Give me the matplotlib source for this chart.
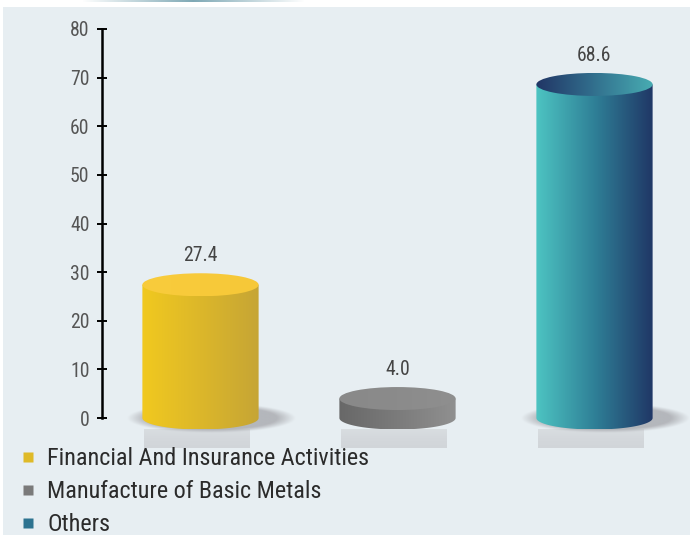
import numpy as np
import matplotlib
matplotlib.use('Agg')
import matplotlib.pyplot as plt
from matplotlib.patches import Ellipse, PathPatch, Rectangle
from matplotlib.path import Path
from matplotlib.colors import LinearSegmentedColormap, to_rgb
from matplotlib.lines import Line2D

# ---------------- data ----------------
categories = ['Financial And Insurance Activities', 'Manufacture of Basic Metals', 'Others']
values = [27.4, 4.0, 68.6]
value_labels = ['27.4', '4.0', '68.6']
yticks = [0, 10, 20, 30, 40, 50, 60, 70, 80]

# ---------------- style ----------------
body_colors = [['#f1c91f', '#dcb72a', '#c6a535'],
               ['#686868', '#7b7b7b', '#909090'],
               ['#4dc4c2', '#2f8097', '#203766']]
top_colors = [['#f9cc3c', '#f8ca3a', '#f6c838'],
              ['#898989', '#8b8b8b', '#8f8f8f'],
              ['#213565', '#32708e', '#48acb2']]
legend_colors = ['#dfba28', '#7a7a7a', '#2d7390']
shadow_on = [1, 0, 1]
bg = '#e7eef2'

plt.rcParams['font.family'] = ['Roboto Condensed', 'DejaVu Sans']

W, H = 694, 539
fig = plt.figure(figsize=(W / 100, H / 100), dpi=100)
fig.patch.set_facecolor('white')
fig.patches.append(Rectangle((3 / W, 4 / H), 687 / W, 528 / H, transform=fig.transFigure,
                             facecolor=bg, edgecolor='none', zorder=-5))

# thin decorative line at the top
axl = fig.add_axes([57 / W, 1 - 2 / H, 248 / W, 2 / H])
axl.axis('off')
t = np.linspace(0, 1, 300)
a = np.clip(1 - np.abs(t - 0.55) / 0.45, 0, 1)
rgb = to_rgb('#7ea8b5')
img = np.zeros((1, 300, 4))
img[..., :3] = rgb
img[..., 3] = a
axl.imshow(img, aspect='auto', extent=(0, 1, 0, 1))

# main axes
s = (418 - 29) / 80.0  # px per unit
ymax = (418 - 10) / s
ymin = -(450 - 418) / s
ax = fig.add_axes([102 / W, (H - 450) / H, 591 / W, 440 / H])
ax.set_facecolor('none')
ax.set_zorder(2)

x = np.arange(len(values))
w = 0.295                # half width in data units
hy = 11.5 / s            # ellipse half height in data units


def grad_image(extent, colors, clip, z, vertical=False, alpha=None):
    cmap = LinearSegmentedColormap.from_list('g', colors)
    if vertical:
        arr = np.linspace(1, 0, 256)[:, None]
    else:
        arr = np.linspace(0, 1, 256)[None, :]
    im = ax.imshow(arr, cmap=cmap, extent=extent, aspect='auto', origin='upper',
                   zorder=z, interpolation='bilinear', alpha=alpha)
    if clip is not None:
        im.set_clip_path(clip)
    return im


for i, (c, v) in enumerate(zip(x, values)):
    # shadow
    if shadow_on[i]:
        cx = c + 0.056
        sa, sb = 0.428, 15 / s
        nx, ny = 300, 80
        gx, gy = np.meshgrid(np.linspace(-1, 1, nx), np.linspace(-1, 1, ny))
        r = np.sqrt(gx ** 2 + gy ** 2)
        al = np.clip((1 - r) / 0.22, 0, 1) * 0.95
        simg = np.zeros((ny, nx, 4))
        simg[..., :3] = to_rgb('#b2b4b9')
        simg[..., 3] = al
        ax.imshow(simg, extent=(cx - sa, cx + sa, -sb, sb), aspect='auto', zorder=1,
                  interpolation='bilinear')
    # reflection
    ry0, ry1 = -(429 - 418) / s, -(448.5 - 418) / s
    rx0, rx1 = c - w + 0.008, c + w - 0.045
    rrect = Rectangle((rx0, ry1), rx1 - rx0, ry0 - ry1, transform=ax.transData)
    grad_image((rx0, rx1, ry1, ry0), ['#d1d5d9', '#d4d8dc', '#d9dee1'], rrect, 0.9,
               vertical=True)
    # body
    th = np.linspace(np.pi, 2 * np.pi, 100)
    verts = [(c - w, v), (c - w, 0)] + list(zip(c + w * np.cos(th), hy * np.sin(th))) + \
            [(c + w, v), (c - w, v)]
    codes = [Path.MOVETO] + [Path.LINETO] * (len(verts) - 2) + [Path.CLOSEPOLY]
    body = PathPatch(Path(verts, codes), transform=ax.transData)
    grad_image((c - w, c + w, -hy, v), body_colors[i], body, 2)
    # top ellipse
    top = Ellipse((c, v), 2 * w, 2 * hy, transform=ax.transData)
    grad_image((c - w, c + w, v - hy, v + hy), top_colors[i], top, 3)
    # value label
    ax.annotate(value_labels[i], (c, v), xytext=(0, 23.5), textcoords='offset pixels',
                ha='center', va='baseline', fontsize=14.2, color='#444444', zorder=5)

ax.set_xlim(-0.5, 2.5)
ax.set_ylim(ymin, ymax)
ax.set_xticks([])
ax.set_yticks(yticks)
ax.set_yticklabels([str(t) for t in yticks])
for sp in ['top', 'right', 'bottom']:
    ax.spines[sp].set_visible(False)
ax.spines['left'].set_bounds(0, 80)
ax.spines['left'].set_linewidth(1.8)
ax.spines['left'].set_color('black')
ax.tick_params(axis='y', direction='inout', length=7.9, width=1.4, color='black',
               pad=5, labelsize=14.2, labelcolor='#555555')

# legend
handles = [Line2D([], [], marker='s', ls='none', markersize=7.9, markerfacecolor=col,
                  markeredgecolor='none') for col in legend_colors]
fig.legend(handles, categories, loc='upper left', bbox_to_anchor=(18 / W, 1 - 447 / H),
           frameon=False, fontsize=17.4, handlelength=0.8, handletextpad=0.41,
           labelspacing=0.42, borderpad=0, borderaxespad=0, labelcolor='#2b2b2b')

fig.savefig('out.png', dpi=100, facecolor='white')
